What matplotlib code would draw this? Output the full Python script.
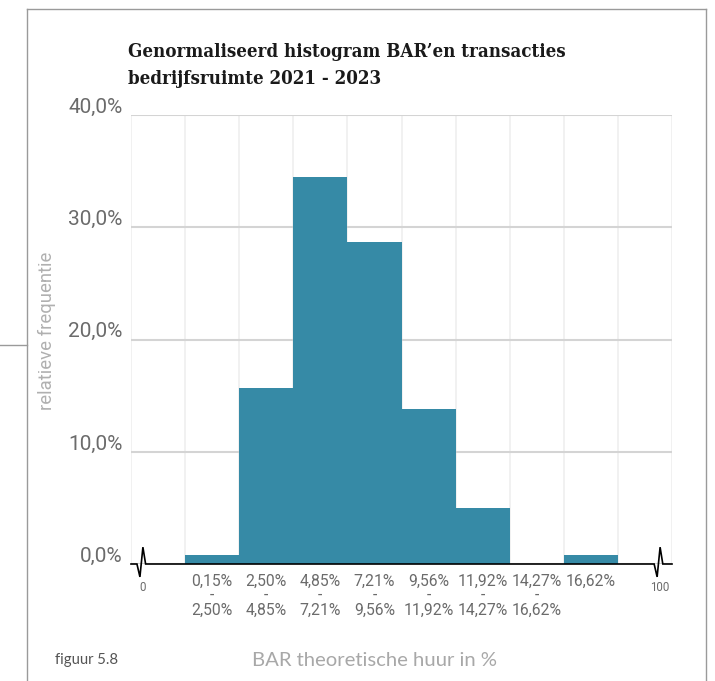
import numpy as np
import matplotlib.pyplot as plt
from matplotlib.lines import Line2D
from matplotlib.transforms import ScaledTranslation

# histogram classes (BAR theoretische huur) and relative frequency per class in %
bins = ["0,15%\n-\n2,50%", "2,50%\n-\n4,85%", "4,85%\n-\n7,21%", "7,21%\n-\n9,56%",
        "9,56%\n-\n11,92%", "11,92%\n-\n14,27%", "14,27%\n-\n16,62%", "16,62%"]
freq = [0.8, 15.7, 34.5, 28.7, 13.8, 5.0, 0.0, 0.8]
yticks = [0, 10, 20, 30, 40]

bar_color = "#368aa6"

fig = plt.figure(figsize=(7.15, 6.81), dpi=100)
ax = fig.add_axes([131 / 715, 117 / 681, 541 / 715, 449 / 681])

# one empty slot on each side for the broken 0 and 100 ends
centers = np.arange(len(bins)) + 1.5
ax.bar(centers, freq, width=1.0, color=bar_color, zorder=2)

ax.set_xlim(0, len(bins) + 2)
ax.set_ylim(0, 40)

# vertical grid on slot edges, horizontal grid on the percent ticks
ax.set_xticks(np.arange(len(bins) + 3), minor=True)
ax.grid(which="minor", axis="x", color="#efefef", lw=1.2, zorder=0)
ax.set_yticks(yticks)
ax.set_yticklabels([f"{v:.1f}%".replace(".", ",") for v in yticks])
ax.grid(which="major", axis="y", color="#d4d4d4", lw=1.5, zorder=0)
ax.tick_params(axis="y", length=0, pad=6, labelsize=15, labelcolor="#6b6b6b")
for lab in ax.get_yticklabels():
    lab.set_fontfamily("Roboto")
    lab.set_transform(lab.get_transform() + ScaledTranslation(0, 7 / 72, fig.dpi_scale_trans))

# x ticks: class labels plus the 0 and 100 ends at the break marks
brk = [0.22, len(bins) + 1.78]
ax.set_xticks([brk[0]] + list(centers) + [brk[1]])
ax.set_xticklabels(["0"] + bins + ["100"])
ax.tick_params(axis="x", which="both", length=0, pad=7, labelcolor="#6b6b6b")
for lab in ax.get_xticklabels():
    lab.set_fontfamily("Roboto")
    lab.set_fontsize(11.3)
    lab.set_linespacing(0.95)
    lab.set_verticalalignment("top")
xl = ax.get_xticklabels()
for lab in (xl[0], xl[-1]):
    lab.set_fontsize(8.3)
    lab.set_transform(lab.get_transform() + ScaledTranslation(0, -5 / 72, fig.dpi_scale_trans))

for s in ax.spines.values():
    s.set_visible(False)

# black baseline with a zigzag break near both ends
xs, ys = [0], [0]
for b in brk:
    xs += [b - 0.11, b - 0.055, b, b + 0.05]
    ys += [0, -1.15, 1.5, 0]
xs.append(len(bins) + 2)
ys.append(0)
ax.plot(xs, ys, color="black", lw=1.2, clip_on=False, zorder=3,
        solid_joinstyle="miter")

ax.set_ylabel("relatieve frequentie", fontfamily="Roboto", fontsize=13.3,
              color="#b0b0b0")
ax.yaxis.set_label_coords(-0.139, 0.52)

fig.text(128 / 715, 1 - 43 / 681, "Genormaliseerd histogram BAR\u2019en transacties\nbedrijfsruimte 2021 - 2023",
         fontfamily="DejaVu Serif", fontstretch="condensed", fontweight="bold",
         fontsize=13.4, color="#1a1a1a", va="top", ha="left", linespacing=1.65)

fig.text(374 / 715, 1 - 660 / 681, "BAR theoretische huur in %", fontfamily="Lato",
         fontsize=14.6, color="#a8a8a8", ha="center", va="center")
fig.text(55 / 715, 1 - 660 / 681, "figuur 5.8", fontfamily="Lato",
         fontsize=10.7, color="#555555", ha="left", va="center")

# surrounding frame lines
frame = dict(color="#9a9a9a", lw=1.0, transform=fig.transFigure)
fig.add_artist(Line2D([27 / 715, 706 / 715], [1 - 9 / 681] * 2, **frame))
fig.add_artist(Line2D([27 / 715] * 2, [1 - 9 / 681, 0], **frame))
fig.add_artist(Line2D([706 / 715] * 2, [1 - 9 / 681, 0], **frame))
fig.add_artist(Line2D([0, 27 / 715], [1 - 345 / 681] * 2, **frame))

fig.savefig("out.png", dpi=100)
